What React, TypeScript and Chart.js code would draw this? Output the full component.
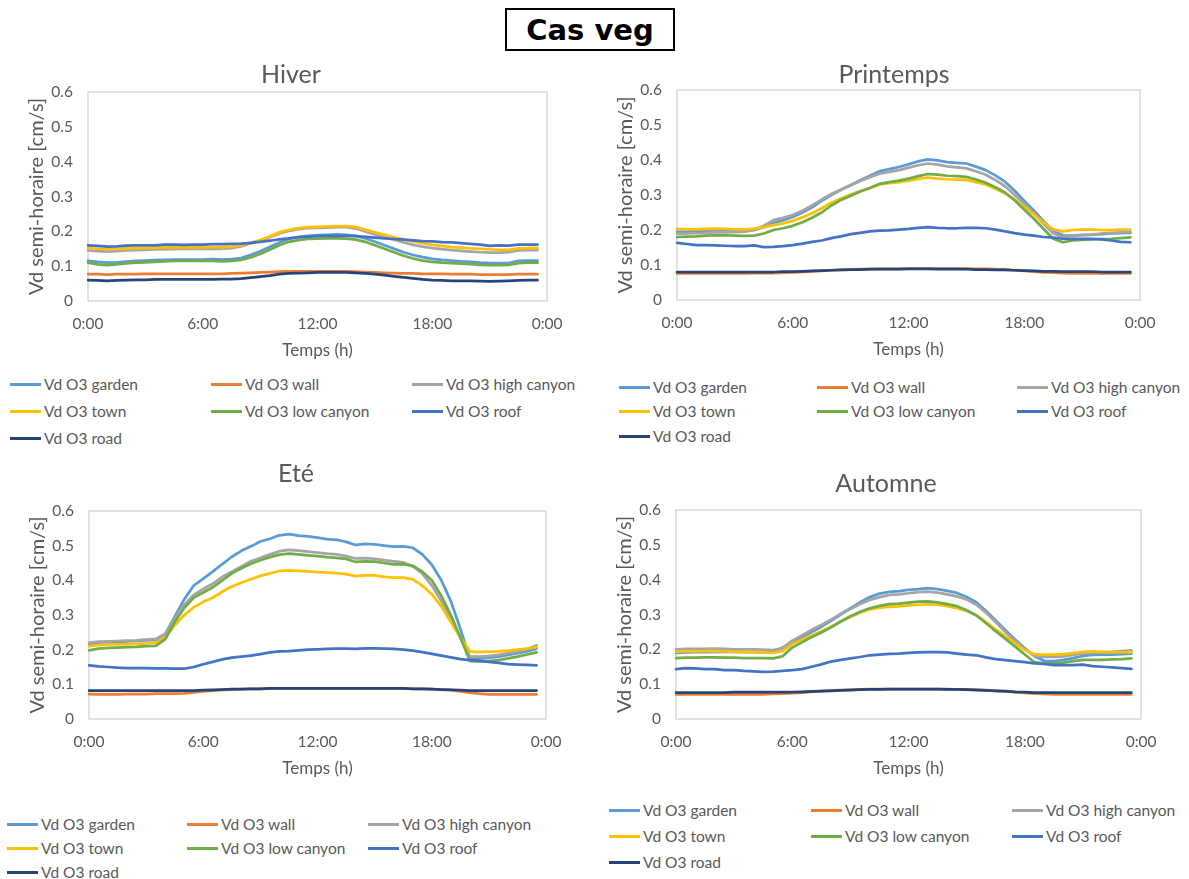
import React, { useEffect, useRef } from "react";
import { Chart, registerables } from "chart.js";

Chart.register(...registerables);

// ---------- Data ----------
const TIME_LABELS = [
  "0:00", "0:30", "1:00", "1:30", "2:00", "2:30", "3:00", "3:30", "4:00", "4:30", "5:00", "5:30",
  "6:00", "6:30", "7:00", "7:30", "8:00", "8:30", "9:00", "9:30", "10:00", "10:30", "11:00", "11:30",
  "12:00", "12:30", "13:00", "13:30", "14:00", "14:30", "15:00", "15:30", "16:00", "16:30", "17:00", "17:30",
  "18:00", "18:30", "19:00", "19:30", "20:00", "20:30", "21:00", "21:30", "22:00", "22:30", "23:00", "23:30",
  "0:00",
];

const SERIES_NAMES = [
  "Vd O3 garden",
  "Vd O3 wall",
  "Vd O3 high canyon",
  "Vd O3 town",
  "Vd O3 low canyon",
  "Vd O3 roof",
  "Vd O3 road",
];

const SERIES_COLORS = ["#5B9BD5", "#ED7D31", "#A5A5A5", "#FFC000", "#70AD47", "#4472C4", "#264478"];

const MAIN_TITLE = "Cas veg";
const X_TITLE = "Temps (h)";
const Y_TITLE = "Vd semi-horaire [cm/s]";
const Y_MIN = 0;
const Y_MAX = 0.6;
const Y_STEP = 0.1;
const X_TICK_EVERY = 12; // every 6 h

// Hiver
const HIVER_GARDEN = [0.115, 0.112, 0.110, 0.111, 0.113, 0.115, 0.116, 0.117, 0.118, 0.119, 0.119, 0.119,
  0.119, 0.120, 0.119, 0.120, 0.123, 0.132, 0.143, 0.155, 0.168, 0.178, 0.184, 0.187,
  0.189, 0.190, 0.191, 0.190, 0.187, 0.180, 0.170, 0.160, 0.150, 0.140, 0.132, 0.126,
  0.121, 0.118, 0.116, 0.114, 0.112, 0.110, 0.109, 0.109, 0.109, 0.115, 0.116, 0.116];
const HIVER_WALL = [0.077, 0.077, 0.076, 0.077, 0.077, 0.077, 0.078, 0.078, 0.078, 0.078, 0.078, 0.078,
  0.078, 0.078, 0.078, 0.079, 0.080, 0.081, 0.082, 0.083, 0.084, 0.085, 0.085, 0.085,
  0.085, 0.085, 0.085, 0.085, 0.084, 0.083, 0.082, 0.081, 0.080, 0.079, 0.079, 0.078,
  0.078, 0.078, 0.077, 0.077, 0.077, 0.076, 0.076, 0.076, 0.076, 0.077, 0.077, 0.077];
const HIVER_HIGH = [0.145, 0.143, 0.142, 0.143, 0.145, 0.146, 0.147, 0.148, 0.149, 0.149, 0.150, 0.150,
  0.150, 0.150, 0.150, 0.152, 0.157, 0.165, 0.173, 0.183, 0.194, 0.201, 0.206, 0.209,
  0.210, 0.211, 0.212, 0.212, 0.208, 0.200, 0.191, 0.183, 0.176, 0.168, 0.161, 0.156,
  0.152, 0.149, 0.146, 0.144, 0.142, 0.140, 0.139, 0.139, 0.140, 0.145, 0.146, 0.146];
const HIVER_TOWN = [0.152, 0.150, 0.149, 0.150, 0.151, 0.152, 0.152, 0.153, 0.154, 0.154, 0.154, 0.154,
  0.155, 0.155, 0.155, 0.156, 0.160, 0.167, 0.175, 0.185, 0.197, 0.204, 0.209, 0.212,
  0.213, 0.214, 0.215, 0.215, 0.212, 0.205, 0.197, 0.190, 0.183, 0.177, 0.171, 0.166,
  0.161, 0.158, 0.155, 0.153, 0.151, 0.150, 0.148, 0.147, 0.147, 0.151, 0.152, 0.152];
const HIVER_LOW = [0.110, 0.105, 0.103, 0.105, 0.108, 0.110, 0.111, 0.112, 0.114, 0.115, 0.115, 0.115,
  0.115, 0.115, 0.114, 0.115, 0.118, 0.125, 0.135, 0.147, 0.160, 0.170, 0.175, 0.178,
  0.179, 0.180, 0.180, 0.179, 0.176, 0.170, 0.160, 0.150, 0.140, 0.130, 0.122, 0.116,
  0.112, 0.110, 0.109, 0.107, 0.106, 0.104, 0.103, 0.103, 0.104, 0.109, 0.110, 0.110];
const HIVER_ROOF = [0.160, 0.158, 0.156, 0.157, 0.159, 0.160, 0.160, 0.160, 0.162, 0.162, 0.161, 0.162,
  0.162, 0.163, 0.163, 0.164, 0.165, 0.167, 0.170, 0.173, 0.177, 0.180, 0.183, 0.185,
  0.186, 0.187, 0.187, 0.187, 0.186, 0.184, 0.182, 0.180, 0.178, 0.176, 0.174, 0.172,
  0.171, 0.169, 0.168, 0.166, 0.164, 0.162, 0.158, 0.160, 0.159, 0.162, 0.162, 0.162];
const HIVER_ROAD = [0.060, 0.059, 0.058, 0.059, 0.060, 0.061, 0.061, 0.062, 0.062, 0.062, 0.062, 0.062,
  0.062, 0.062, 0.063, 0.063, 0.064, 0.067, 0.070, 0.073, 0.077, 0.079, 0.080, 0.081,
  0.082, 0.082, 0.082, 0.082, 0.081, 0.079, 0.077, 0.074, 0.071, 0.068, 0.065, 0.062,
  0.060, 0.059, 0.058, 0.058, 0.058, 0.057, 0.056, 0.057, 0.058, 0.059, 0.060, 0.060];

// Printemps
const PRINT_GARDEN = [0.195, 0.195, 0.196, 0.196, 0.197, 0.197, 0.197, 0.198, 0.200, 0.208, 0.220, 0.228,
  0.237, 0.250, 0.265, 0.283, 0.300, 0.315, 0.328, 0.342, 0.355, 0.368, 0.374, 0.380,
  0.388, 0.396, 0.402, 0.399, 0.394, 0.392, 0.390, 0.381, 0.371, 0.356, 0.338, 0.312,
  0.283, 0.255, 0.225, 0.198, 0.185, 0.184, 0.186, 0.186, 0.188, 0.190, 0.191, 0.192];
const PRINT_WALL = [0.076, 0.076, 0.076, 0.076, 0.076, 0.076, 0.076, 0.076, 0.077, 0.077, 0.077, 0.078,
  0.079, 0.080, 0.082, 0.083, 0.085, 0.086, 0.087, 0.088, 0.088, 0.089, 0.089, 0.089,
  0.090, 0.090, 0.090, 0.090, 0.090, 0.090, 0.090, 0.089, 0.089, 0.088, 0.087, 0.085,
  0.083, 0.081, 0.079, 0.078, 0.077, 0.076, 0.076, 0.076, 0.076, 0.076, 0.076, 0.076];
const PRINT_HIGH = [0.190, 0.190, 0.191, 0.192, 0.193, 0.193, 0.194, 0.195, 0.200, 0.212, 0.228, 0.235,
  0.243, 0.255, 0.270, 0.287, 0.303, 0.316, 0.328, 0.340, 0.351, 0.361, 0.366, 0.371,
  0.378, 0.385, 0.390, 0.387, 0.382, 0.379, 0.376, 0.368, 0.358, 0.343, 0.325, 0.300,
  0.275, 0.248, 0.218, 0.190, 0.180, 0.182, 0.185, 0.187, 0.190, 0.192, 0.193, 0.194];
const PRINT_TOWN = [0.203, 0.202, 0.202, 0.203, 0.204, 0.203, 0.202, 0.202, 0.204, 0.208, 0.214, 0.219,
  0.226, 0.236, 0.248, 0.262, 0.278, 0.290, 0.301, 0.311, 0.320, 0.330, 0.334, 0.337,
  0.341, 0.346, 0.350, 0.347, 0.345, 0.344, 0.343, 0.337, 0.330, 0.318, 0.305, 0.287,
  0.266, 0.245, 0.222, 0.202, 0.196, 0.200, 0.201, 0.201, 0.200, 0.200, 0.201, 0.201];
const PRINT_LOW = [0.180, 0.181, 0.182, 0.184, 0.185, 0.185, 0.184, 0.183, 0.184, 0.190, 0.200, 0.205,
  0.212, 0.222, 0.235, 0.250, 0.270, 0.286, 0.298, 0.310, 0.320, 0.332, 0.337, 0.341,
  0.347, 0.354, 0.360, 0.358, 0.355, 0.354, 0.352, 0.344, 0.335, 0.322, 0.307, 0.285,
  0.258, 0.232, 0.203, 0.175, 0.165, 0.170, 0.172, 0.173, 0.174, 0.175, 0.177, 0.179];
const PRINT_ROOF = [0.163, 0.160, 0.157, 0.157, 0.156, 0.155, 0.154, 0.154, 0.156, 0.151, 0.152, 0.154,
  0.157, 0.161, 0.166, 0.170, 0.177, 0.182, 0.188, 0.192, 0.196, 0.198, 0.199, 0.201,
  0.203, 0.206, 0.208, 0.206, 0.205, 0.205, 0.206, 0.206, 0.205, 0.201, 0.196, 0.191,
  0.187, 0.184, 0.180, 0.178, 0.175, 0.174, 0.175, 0.175, 0.173, 0.170, 0.166, 0.165];
const PRINT_ROAD = [0.080, 0.080, 0.080, 0.080, 0.080, 0.080, 0.080, 0.080, 0.080, 0.080, 0.080, 0.081,
  0.081, 0.082, 0.083, 0.084, 0.085, 0.086, 0.087, 0.087, 0.088, 0.088, 0.088, 0.088,
  0.089, 0.089, 0.089, 0.088, 0.088, 0.088, 0.088, 0.087, 0.087, 0.086, 0.086, 0.085,
  0.084, 0.083, 0.082, 0.082, 0.081, 0.081, 0.081, 0.081, 0.080, 0.080, 0.080, 0.080];

// Eté
const ETE_GARDEN = [0.216, 0.220, 0.222, 0.222, 0.224, 0.225, 0.227, 0.228, 0.245, 0.295, 0.345, 0.385,
  0.405, 0.425, 0.447, 0.468, 0.485, 0.498, 0.512, 0.520, 0.530, 0.533, 0.529, 0.527,
  0.523, 0.519, 0.517, 0.511, 0.502, 0.505, 0.504, 0.500, 0.497, 0.498, 0.494, 0.475,
  0.445, 0.400, 0.340, 0.260, 0.175, 0.174, 0.176, 0.180, 0.185, 0.190, 0.195, 0.203];
const ETE_WALL = [0.072, 0.071, 0.071, 0.071, 0.072, 0.072, 0.072, 0.073, 0.073, 0.073, 0.074, 0.077,
  0.080, 0.082, 0.084, 0.085, 0.086, 0.087, 0.087, 0.088, 0.088, 0.088, 0.088, 0.088,
  0.088, 0.088, 0.088, 0.088, 0.088, 0.088, 0.088, 0.088, 0.088, 0.088, 0.087, 0.087,
  0.086, 0.085, 0.084, 0.080, 0.076, 0.073, 0.071, 0.071, 0.071, 0.071, 0.071, 0.071];
const ETE_HIGH = [0.220, 0.223, 0.224, 0.225, 0.226, 0.227, 0.229, 0.231, 0.245, 0.290, 0.330, 0.358,
  0.375, 0.390, 0.410, 0.425, 0.440, 0.455, 0.465, 0.475, 0.484, 0.488, 0.486, 0.483,
  0.480, 0.477, 0.475, 0.470, 0.463, 0.464, 0.462, 0.458, 0.455, 0.452, 0.440, 0.420,
  0.385, 0.340, 0.290, 0.235, 0.180, 0.180, 0.182, 0.185, 0.190, 0.195, 0.202, 0.212];
const ETE_TOWN = [0.210, 0.213, 0.215, 0.215, 0.216, 0.217, 0.218, 0.220, 0.235, 0.270, 0.300, 0.322,
  0.338, 0.350, 0.367, 0.382, 0.393, 0.403, 0.413, 0.420, 0.427, 0.429, 0.427, 0.426,
  0.424, 0.422, 0.421, 0.418, 0.412, 0.414, 0.414, 0.410, 0.408, 0.408, 0.403, 0.385,
  0.360, 0.325, 0.280, 0.235, 0.195, 0.193, 0.194, 0.195, 0.197, 0.200, 0.203, 0.207];
const ETE_LOW = [0.198, 0.203, 0.205, 0.206, 0.207, 0.208, 0.210, 0.211, 0.230, 0.280, 0.320, 0.350,
  0.365, 0.380, 0.400, 0.420, 0.435, 0.448, 0.458, 0.467, 0.474, 0.477, 0.475, 0.472,
  0.470, 0.467, 0.465, 0.462, 0.453, 0.455, 0.454, 0.450, 0.446, 0.447, 0.442, 0.425,
  0.400, 0.355, 0.300, 0.235, 0.167, 0.166, 0.167, 0.170, 0.175, 0.180, 0.186, 0.192];
const ETE_ROOF = [0.155, 0.152, 0.150, 0.148, 0.147, 0.147, 0.147, 0.146, 0.146, 0.145, 0.145, 0.150,
  0.158, 0.165, 0.172, 0.177, 0.180, 0.183, 0.187, 0.192, 0.195, 0.196, 0.198, 0.200,
  0.201, 0.202, 0.203, 0.203, 0.202, 0.204, 0.204, 0.203, 0.202, 0.200, 0.197, 0.193,
  0.188, 0.183, 0.178, 0.173, 0.170, 0.168, 0.165, 0.162, 0.158, 0.157, 0.156, 0.155];
const ETE_ROAD = [0.082, 0.082, 0.082, 0.082, 0.082, 0.082, 0.082, 0.082, 0.082, 0.082, 0.082, 0.082,
  0.083, 0.084, 0.085, 0.086, 0.086, 0.087, 0.087, 0.088, 0.088, 0.088, 0.088, 0.088,
  0.088, 0.088, 0.088, 0.088, 0.088, 0.088, 0.088, 0.088, 0.088, 0.088, 0.087, 0.087,
  0.086, 0.085, 0.084, 0.083, 0.082, 0.082, 0.082, 0.082, 0.082, 0.082, 0.082, 0.082];

// Automne
const AUT_GARDEN = [0.190, 0.191, 0.192, 0.192, 0.193, 0.193, 0.193, 0.192, 0.192, 0.191, 0.193, 0.205,
  0.222, 0.235, 0.250, 0.265, 0.282, 0.300, 0.318, 0.335, 0.350, 0.360, 0.365, 0.367,
  0.371, 0.373, 0.376, 0.373, 0.368, 0.362, 0.350, 0.335, 0.310, 0.283, 0.255, 0.228,
  0.203, 0.180, 0.167, 0.166, 0.170, 0.175, 0.181, 0.184, 0.185, 0.185, 0.186, 0.188];
const AUT_WALL = [0.071, 0.071, 0.071, 0.071, 0.071, 0.071, 0.071, 0.071, 0.071, 0.071, 0.072, 0.073,
  0.074, 0.076, 0.078, 0.080, 0.082, 0.083, 0.084, 0.085, 0.086, 0.086, 0.086, 0.086,
  0.086, 0.086, 0.086, 0.086, 0.086, 0.085, 0.085, 0.084, 0.083, 0.081, 0.079, 0.077,
  0.075, 0.073, 0.072, 0.071, 0.071, 0.071, 0.071, 0.071, 0.071, 0.071, 0.071, 0.071];
const AUT_HIGH = [0.200, 0.201, 0.201, 0.201, 0.202, 0.201, 0.200, 0.200, 0.200, 0.199, 0.198, 0.203,
  0.225, 0.240, 0.256, 0.270, 0.285, 0.302, 0.316, 0.330, 0.342, 0.350, 0.356, 0.358,
  0.361, 0.364, 0.366, 0.363, 0.358, 0.352, 0.343, 0.328, 0.305, 0.278, 0.250, 0.224,
  0.200, 0.181, 0.178, 0.178, 0.180, 0.184, 0.188, 0.190, 0.192, 0.193, 0.195, 0.197];
const AUT_TOWN = [0.193, 0.194, 0.194, 0.195, 0.195, 0.194, 0.193, 0.193, 0.192, 0.191, 0.190, 0.195,
  0.215, 0.228, 0.240, 0.252, 0.265, 0.280, 0.293, 0.305, 0.315, 0.320, 0.322, 0.323,
  0.326, 0.328, 0.330, 0.328, 0.324, 0.318, 0.310, 0.298, 0.278, 0.257, 0.237, 0.218,
  0.198, 0.186, 0.185, 0.185, 0.186, 0.189, 0.193, 0.194, 0.193, 0.192, 0.191, 0.192];
const AUT_LOW = [0.175, 0.176, 0.176, 0.177, 0.177, 0.176, 0.176, 0.175, 0.175, 0.175, 0.174, 0.180,
  0.205, 0.220, 0.235, 0.248, 0.263, 0.280, 0.295, 0.308, 0.318, 0.325, 0.330, 0.331,
  0.334, 0.337, 0.338, 0.335, 0.330, 0.324, 0.312, 0.297, 0.275, 0.252, 0.230, 0.208,
  0.185, 0.163, 0.160, 0.160, 0.162, 0.166, 0.170, 0.170, 0.170, 0.171, 0.172, 0.174];
const AUT_ROOF = [0.143, 0.146, 0.145, 0.143, 0.143, 0.140, 0.140, 0.138, 0.137, 0.135, 0.136, 0.138,
  0.140, 0.143, 0.150, 0.157, 0.165, 0.170, 0.174, 0.178, 0.183, 0.185, 0.187, 0.188,
  0.190, 0.191, 0.192, 0.192, 0.191, 0.188, 0.185, 0.183, 0.177, 0.172, 0.169, 0.166,
  0.163, 0.160, 0.158, 0.155, 0.155, 0.155, 0.156, 0.152, 0.150, 0.148, 0.146, 0.144];
const AUT_ROAD = [0.076, 0.076, 0.076, 0.076, 0.076, 0.076, 0.077, 0.077, 0.077, 0.077, 0.077, 0.077,
  0.077, 0.078, 0.079, 0.080, 0.081, 0.082, 0.083, 0.084, 0.085, 0.085, 0.086, 0.086,
  0.086, 0.086, 0.086, 0.086, 0.085, 0.085, 0.084, 0.083, 0.082, 0.081, 0.080, 0.078,
  0.077, 0.076, 0.076, 0.076, 0.076, 0.076, 0.076, 0.076, 0.076, 0.076, 0.076, 0.076];

// ---------- Layout / style ----------
const FONT = "Lato, 'Liberation Sans', sans-serif";
const TEXT_COLOR = "#595959";
const Y_AXIS_W = 80;
const X_AXIS_H = 62;

type Panel = {
  title: string;
  series: number[][];
  plot: { L: number; T: number; R: number; B: number };
  titleX: number;
  titleY: number;
  legendCols: number[];
  legendRows: number[];
};

const PANELS: Panel[] = [
  {
    title: "Hiver",
    series: [HIVER_GARDEN, HIVER_WALL, HIVER_HIGH, HIVER_TOWN, HIVER_LOW, HIVER_ROOF, HIVER_ROAD],
    plot: { L: 88, T: 92, R: 551, B: 301 },
    titleX: 291,
    titleY: 75,
    legendCols: [10, 211, 412],
    legendRows: [384, 411, 438],
  },
  {
    title: "Printemps",
    series: [PRINT_GARDEN, PRINT_WALL, PRINT_HIGH, PRINT_TOWN, PRINT_LOW, PRINT_ROOF, PRINT_ROAD],
    plot: { L: 677, T: 90, R: 1144, B: 300 },
    titleX: 894,
    titleY: 75,
    legendCols: [619, 817, 1017],
    legendRows: [387, 411, 436],
  },
  {
    title: "Eté",
    series: [ETE_GARDEN, ETE_WALL, ETE_HIGH, ETE_TOWN, ETE_LOW, ETE_ROOF, ETE_ROAD],
    plot: { L: 89, T: 511, R: 550, B: 719 },
    titleX: 296,
    titleY: 474,
    legendCols: [7, 187, 368],
    legendRows: [824, 848, 872],
  },
  {
    title: "Automne",
    series: [AUT_GARDEN, AUT_WALL, AUT_HIGH, AUT_TOWN, AUT_LOW, AUT_ROOF, AUT_ROAD],
    plot: { L: 676, T: 510, R: 1145, B: 719 },
    titleX: 886,
    titleY: 484,
    legendCols: [609, 811, 1012],
    legendRows: [810, 836, 862],
  },
];

const framePlugin = {
  id: "plotFrame",
  beforeDatasetsDraw(chart: any) {
    const { ctx, chartArea } = chart;
    const { left, top, right, bottom } = chartArea;
    ctx.save();
    ctx.strokeStyle = "#D9D9D9";
    ctx.lineWidth = 1.5;
    ctx.strokeRect(left, top, right - left, bottom - top);
    ctx.restore();
  },
};

const panelTitlePlugin = {
  id: "panelTitle",
  afterDraw(chart: any, _args: any, opts: any) {
    const { ctx } = chart;
    ctx.save();
    ctx.font = `${opts.size}px ${FONT}`;
    ctx.fillStyle = TEXT_COLOR;
    ctx.textAlign = "center";
    ctx.textBaseline = "middle";
    ctx.fillText(opts.text, opts.x, opts.y);
    ctx.restore();
  },
};

function ChartPanel({ panel }: { panel: Panel }) {
  const ref = useRef<HTMLCanvasElement | null>(null);
  const { L, T, R, B } = panel.plot;
  const cl = L - Y_AXIS_W;
  const ct = panel.titleY - 20;
  const padR = 25;
  const W = R + padR - cl;
  const H = B + X_AXIS_H - ct;

  useEffect(() => {
    if (!ref.current) return;
    const chart = new Chart(ref.current, {
      type: "line",
      data: {
        labels: TIME_LABELS,
        datasets: panel.series.map((vals, i) => ({
          label: SERIES_NAMES[i],
          data: vals,
          borderColor: SERIES_COLORS[i],
          backgroundColor: SERIES_COLORS[i],
          borderWidth: 2.75,
          pointRadius: 0,
          pointHoverRadius: 0,
          tension: 0,
          fill: false,
          borderJoinStyle: "round",
          borderCapStyle: "round",
          order: SERIES_NAMES.length - i,
        })),
      },
      options: {
        animation: false,
        responsive: false,
        maintainAspectRatio: false,
        devicePixelRatio: 1,
        events: [],
        layout: { padding: { left: 0, top: T - ct, right: padR, bottom: 0 } },
        plugins: {
          legend: { display: false },
          tooltip: { enabled: false },
          title: { display: false },
          panelTitle: { text: panel.title, x: panel.titleX - cl, y: panel.titleY - ct, size: 25 },
        } as any,
        scales: {
          x: {
            type: "category",
            offset: false,
            grid: { display: false, drawTicks: false },
            border: { display: false },
            ticks: {
              autoSkip: false,
              maxRotation: 0,
              minRotation: 0,
              padding: 13.5,
              color: TEXT_COLOR,
              font: { family: FONT, size: 15.5 },
              callback: (_v: any, idx: number) => (idx % X_TICK_EVERY === 0 ? TIME_LABELS[idx] : null),
            },
            title: {
              display: true,
              text: X_TITLE,
              color: TEXT_COLOR,
              font: { family: FONT, size: 17 },
              padding: { top: 0, bottom: 2 },
            },
            afterFit: (s: any) => {
              s.height = X_AXIS_H;
            },
          },
          y: {
            min: Y_MIN,
            max: Y_MAX,
            grid: { display: false, drawTicks: false },
            border: { display: false },
            ticks: {
              stepSize: Y_STEP,
              padding: 15,
              color: TEXT_COLOR,
              font: { family: FONT, size: 15.5 },
              callback: (v: any) => String(Number(Number(v).toFixed(1))),
            },
            title: {
              display: true,
              text: Y_TITLE,
              color: TEXT_COLOR,
              font: { family: FONT, size: 20 },
              padding: { top: 17, bottom: 0 },
            },
            afterFit: (s: any) => {
              s.width = Y_AXIS_W;
            },
          },
        },
      } as any,
      plugins: [framePlugin, panelTitlePlugin],
    });
    return () => chart.destroy();
  }, []);

  return (
    <>
      <canvas
        ref={ref}
        width={W}
        height={H}
        style={{ position: "absolute", left: cl, top: ct, width: W, height: H }}
      />
      {SERIES_NAMES.map((name, i) => {
        const col = i % 3;
        const row = Math.floor(i / 3);
        return (
          <div
            key={name}
            style={{
              position: "absolute",
              left: panel.legendCols[col],
              top: panel.legendRows[row] - 11,
              height: 22,
              display: "flex",
              alignItems: "center",
              whiteSpace: "nowrap",
              fontFamily: FONT,
              fontSize: 15.5,
              color: TEXT_COLOR,
            }}
          >
            <span
              style={{
                display: "inline-block",
                width: 31,
                height: 3,
                background: SERIES_COLORS[i],
                marginRight: 3,
              }}
            />
            <span>{name}</span>
          </div>
        );
      })}
    </>
  );
}

export default function App() {
  return (
    <div
      style={{
        position: "absolute",
        left: 0,
        top: 0,
        width: 1189,
        height: 879,
        overflow: "hidden",
        background: "#FFFFFF",
      }}
    >
      <div
        style={{
          position: "absolute",
          left: 505,
          top: 8,
          width: 170,
          height: 43,
          boxSizing: "border-box",
          border: "2px solid #000000",
          display: "flex",
          alignItems: "center",
          justifyContent: "center",
          fontFamily: "'DejaVu Sans', sans-serif",
          fontWeight: "bold",
          fontSize: 29,
          color: "#000000",
        }}
      >
        {MAIN_TITLE}
      </div>
      {PANELS.map((p) => (
        <ChartPanel key={p.title} panel={p} />
      ))}
    </div>
  );
}
